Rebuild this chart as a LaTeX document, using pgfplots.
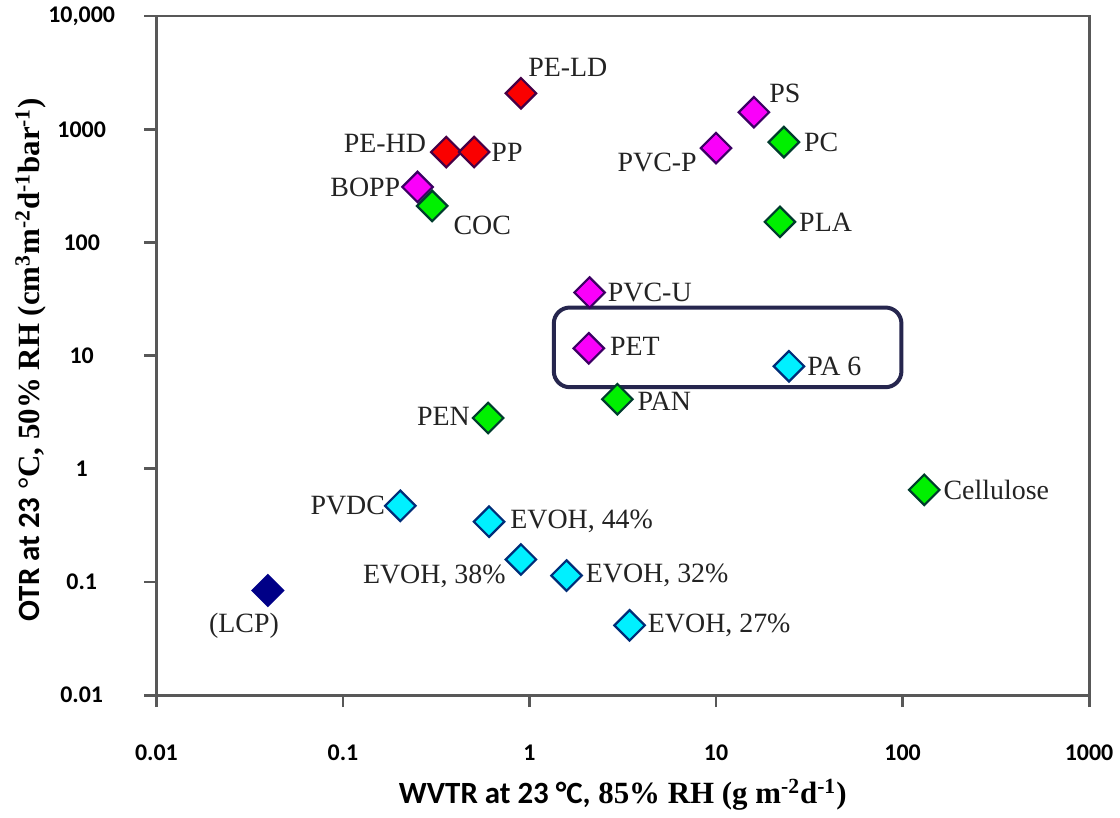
\documentclass[border=0pt]{standalone}
\usepackage{fontspec}
\setmainfont{Liberation Serif}
\newfontfamily\calibri{Carlito}
\usepackage{pgfplots}
\pgfplotsset{compat=1.18}
\definecolor{axisgray}{RGB}{88,88,88}
\definecolor{fred}{RGB}{250,0,0}
\definecolor{ered}{RGB}{70,0,70}
\definecolor{fmag}{RGB}{250,0,250}
\definecolor{emag}{RGB}{60,0,100}
\definecolor{fgreen}{RGB}{0,240,0}
\definecolor{egreen}{RGB}{0,60,45}
\definecolor{fcyan}{RGB}{0,240,255}
\definecolor{ecyan}{RGB}{0,45,120}
\definecolor{fnavy}{RGB}{0,0,135}
\definecolor{boxcol}{RGB}{38,38,78}
\definecolor{txt}{RGB}{35,35,35}
\newcommand\lab{\fontsize{14}{16}\selectfont}
\newcommand{\lbl}[6]{\node[anchor=#1, inner sep=0pt, font=\lab, text=txt, xshift=#2pt, yshift=#3pt] at (axis cs:#4,#5) {#6};}
\begin{document}
\begin{tikzpicture}
\begin{axis}[
  scale only axis, width=468pt, height=340.75pt,
  xmode=log, ymode=log,
  xmin=0.01, xmax=1000, ymin=0.01, ymax=10000,
  xtick={0.01,0.1,1,10,100,1000},
  xticklabels={0.01,0.1,1,10,100,1000},
  ytick={0.01,0.1,1,10,100,1000,10000},
  yticklabels={0.01,0.1,1,10,100,1000,{10,000}},
  xminorticks=false, yminorticks=false,
  tick align=outside, xtick pos=bottom, ytick pos=left,
  major tick length=6pt,
  axis line style={draw=axisgray, line width=1.4pt},
  every tick/.style={draw=axisgray, line width=1.4pt},
  tick label style={font=\calibri\bfseries\fontsize{12}{14}\selectfont, text=black},
  xticklabel style={anchor=center, yshift=-23pt},
  yticklabel style={anchor=center, xshift=-31.5pt},
  every axis x label/.style={at={(rel axis cs:0.5,0)}, yshift=-50pt, anchor=center},
  every axis y label/.style={at={(rel axis cs:0,0.5)}, xshift=-63pt, yshift=-2pt, anchor=center, rotate=90},
  xlabel={\fontsize{15.5}{17}\selectfont\bfseries{\calibri WVTR at 23 °C,} 85\% RH (g m\textsuperscript{-2}d\textsuperscript{-1})},
  ylabel={\fontsize{15.5}{17}\selectfont\bfseries{\calibri OTR at 23} °C, 50\% RH (cm\textsuperscript{3}m\textsuperscript{-2}d\textsuperscript{-1}bar\textsuperscript{-1})},
  clip=false,
  every axis plot/.append style={only marks, mark=square*, mark size=5.4pt, line width=1.1pt},
]
\path (rel axis cs:0,0) ++(-78.5pt,-55.5pt) rectangle ++(560pt,404pt);
\draw[boxcol, line width=2pt, rounded corners=8pt] (axis cs:1.35,5.26) rectangle (axis cs:98.6,26.6);
% red
\addplot[mark options={fill=fred, draw=ered, rotate=45}] coordinates {(0.90,2080) (0.358,629) (0.505,629)};
% magenta
\addplot[mark options={fill=fmag, draw=emag, rotate=45}] coordinates {(0.251,309) (15.97,1414) (10.0,682) (2.10,36.1) (2.08,11.6)};
% green
\addplot[mark options={fill=fgreen, draw=egreen, rotate=45}] coordinates {(0.301,210) (23.1,770) (22.0,152) (2.96,4.12) (0.60,2.81) (130.7,0.652)};
% cyan
\addplot[mark options={fill=fcyan, draw=ecyan, rotate=45}] coordinates {(24.6,8.05) (0.203,0.471) (0.607,0.341) (0.90,0.158) (1.58,0.114) (3.44,0.0414)};
% navy
\addplot[mark options={fill=fnavy, draw=fnavy, rotate=45}] coordinates {(0.0396,0.0841)};
\lbl{west}{3.5}{13}{0.90}{2080}{PE-LD}
\lbl{east}{-10}{4.5}{0.358}{629}{PE-HD}
\lbl{west}{8.5}{0}{0.505}{629}{PP}
\lbl{east}{-8.5}{0}{0.251}{309}{BOPP}
\lbl{west}{10.5}{-9.5}{0.301}{210}{COC}
\lbl{west}{7.5}{9.5}{15.97}{1414}{PS}
\lbl{west}{10}{0}{23.1}{770}{PC}
\lbl{east}{-9.5}{-7}{10.0}{682}{PVC-P}
\lbl{west}{9.5}{0}{22.0}{152}{PLA}
\lbl{west}{9}{0}{2.10}{36.1}{PVC-U}
\lbl{west}{10.5}{1}{2.08}{11.6}{PET}
\lbl{west}{9}{0}{24.6}{8.05}{PA 6}
\lbl{west}{10}{-1}{2.96}{4.12}{PAN}
\lbl{east}{-9}{1}{0.60}{2.81}{PEN}
\lbl{west}{9.5}{0}{130.7}{0.652}{Cellulose}
\lbl{east}{-7.5}{0}{0.203}{0.471}{PVDC}
\lbl{west}{10.5}{0}{0.607}{0.341}{EVOH, 44\%}
\lbl{east}{-7.5}{-8.5}{0.90}{0.158}{EVOH, 38\%}
\lbl{west}{9.5}{0}{1.58}{0.114}{EVOH, 32\%}
\lbl{west}{9}{0}{3.44}{0.0414}{EVOH, 27\%}
\lbl{center}{-12}{-17.5}{0.0396}{0.0841}{(LCP)}
\end{axis}
\end{tikzpicture}
\end{document}
